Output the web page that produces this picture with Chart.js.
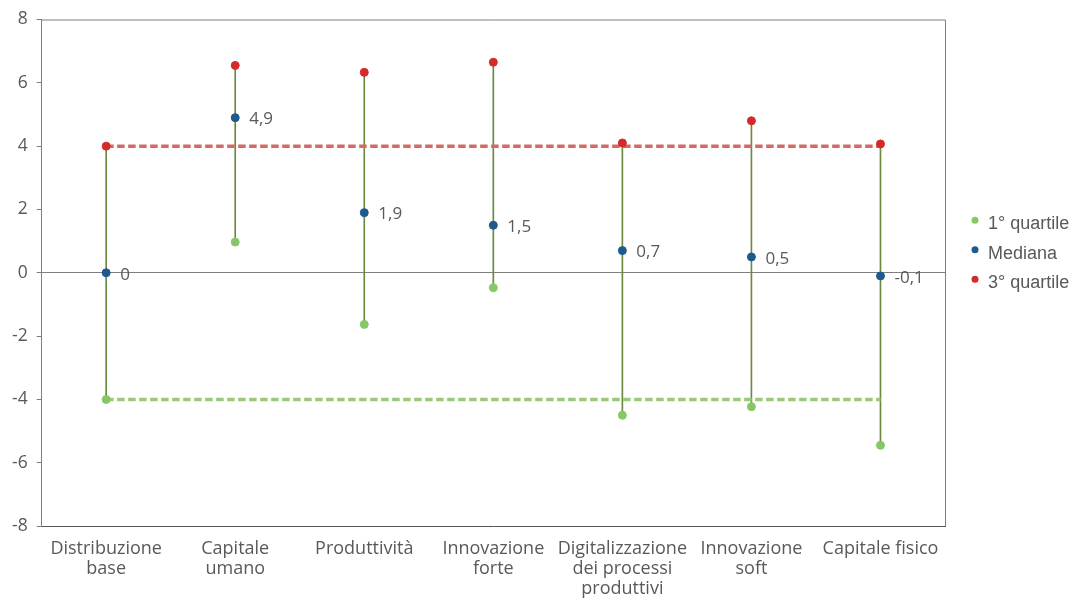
<!DOCTYPE html>
<html>
<head>
<meta charset="utf-8">
<script src="https://cdn.jsdelivr.net/npm/chart.js@4.4.1/dist/chart.umd.min.js"></script>
<style>
    html, body { margin: 0; padding: 0; background: #fff; }
    #wrap { width: 1080px; height: 601px; }
</style>
</head>
<body>
<div id="wrap"><canvas id="chart" width="1080" height="601"></canvas></div>
<script>
const categories = [
    ['Distribuzione', 'base'],
    ['Capitale', 'umano'],
    'Produttività',
    ['Innovazione', 'forte'],
    ['Digitalizzazione', 'dei processi', 'produttivi'],
    ['Innovazione', 'soft'],
    'Capitale fisico'
];
const firstQuartile = [-4.0, 0.97, -1.63, -0.47, -4.5, -4.23, -5.45];
const median = [0, 4.9, 1.9, 1.5, 0.7, 0.5, -0.1];
const thirdQuartile = [4.0, 6.55, 6.33, 6.65, 4.1, 4.8, 4.07];
// reference band of the base distribution
const baseUpper = [4, 4, 4, 4, 4, 4, 4];
const baseLower = [-4, -4, -4, -4, -4, -4, -4];
const yTicks = [-8, -6, -4, -2, 0, 2, 4, 6, 8];

const textColor = '#595959';
const axisColor = '#7f7f7f';

const medianLabelsPlugin = {
    id: 'medianLabels',
    afterDatasetsDraw(chart) {
        const { ctx } = chart;
        const meta = chart.getDatasetMeta(1);
        ctx.save();
        ctx.font = '17px "Open Sans"';
        ctx.fillStyle = textColor;
        ctx.textBaseline = 'middle';
        meta.data.forEach((pt, i) => {
            const txt = String(median[i]).replace('.', ',');
            ctx.fillText(txt, pt.x + 14, pt.y + 2);
        });
        ctx.restore();
    }
};

const framePlugin = {
    id: 'frame',
    beforeDatasetsDraw(chart) {
        const { ctx, chartArea: { left, right, top, bottom } } = chart;
        ctx.save();
        ctx.strokeStyle = axisColor;
        ctx.lineWidth = 1;
        ctx.beginPath();
        ctx.moveTo(left, top + 0.5);
        ctx.lineTo(right + 0.5, top + 0.5);
        ctx.lineTo(right + 0.5, bottom);
        ctx.stroke();
        ctx.restore();
    }
};

// legend drawn by hand beside the plot, for the three point series
const sideLegendPlugin = {
    id: 'sideLegend',
    afterDraw(chart) {
        const { ctx, chartArea: { right, top, bottom } } = chart;
        const mid = (top + bottom) / 2 - 20;
        ctx.save();
        ctx.font = '18px "Liberation Sans"';
        ctx.textBaseline = 'middle';
        [0, 1, 2].forEach((di, row) => {
            const ds = chart.data.datasets[di];
            const y = mid + (row - 1) * 29.5;
            ctx.fillStyle = ds.backgroundColor;
            ctx.beginPath();
            ctx.arc(right + 30, y - 3, 3.5, 0, Math.PI * 2);
            ctx.fill();
            ctx.fillStyle = textColor;
            ctx.fillText(ds.label, right + 43, y + 1);
        });
        ctx.restore();
    }
};

const ranges = firstQuartile.map((q1, i) => [q1, thirdQuartile[i]]);

new Chart(document.getElementById('chart').getContext('2d'), {
    type: 'bar',
    data: {
        labels: categories,
        datasets: [
            {
                type: 'line', label: '1° quartile', data: firstQuartile,
                showLine: false, pointRadius: 4, pointHoverRadius: 4,
                backgroundColor: '#88c765', borderColor: '#88c765', order: 0
            },
            {
                type: 'line', label: 'Mediana', data: median,
                showLine: false, pointRadius: 4, pointHoverRadius: 4,
                backgroundColor: '#1d5a8e', borderColor: '#1d5a8e', order: 0
            },
            {
                type: 'line', label: '3° quartile', data: thirdQuartile,
                showLine: false, pointRadius: 4, pointHoverRadius: 4,
                backgroundColor: '#d42a2a', borderColor: '#d42a2a', order: 0
            },
            {
                type: 'line', label: 'upper', data: baseUpper,
                borderColor: '#d46a64', borderWidth: 3.5, borderDash: [7.5, 3.5],
                pointRadius: 0, fill: false, order: 1
            },
            {
                type: 'line', label: 'lower', data: baseLower,
                borderColor: '#9bc97a', borderWidth: 3.5, borderDash: [7.5, 3.5],
                pointRadius: 0, fill: false, order: 1
            },
            {
                type: 'bar', label: 'range', data: ranges,
                backgroundColor: '#6b8a3f', barThickness: 1, order: 2
            }
        ]
    },
    options: {
        responsive: false,
        animation: false,
        layout: { padding: { left: 3, right: 135, top: 8, bottom: -11 } },
        plugins: {
            tooltip: { enabled: false },
            legend: { display: false }
        },
        scales: {
            x: {
                offset: true,
                grid: { display: false, drawTicks: false },
                border: { display: true, color: '#555' },
                ticks: {
                    color: textColor, font: { family: 'Open Sans', size: 18, lineHeight: 1.11 },
                    maxRotation: 0, autoSkip: false, padding: 13
                }
            },
            y: {
                min: -8, max: 8,
                afterBuildTicks: axis => { axis.ticks = yTicks.map(v => ({ value: v })); },
                grid: {
                    color: c => (c.tick && c.tick.value === 0 ? axisColor : 'transparent'),
                    tickColor: axisColor, tickLength: 5, drawOnChartArea: true
                },
                border: { display: true, color: axisColor },
                ticks: {
                    color: textColor, font: { family: 'Open Sans', size: 17.5 }, padding: 9
                }
            }
        }
    },
    plugins: [framePlugin, medianLabelsPlugin, sideLegendPlugin]
});
</script>
</body>
</html>
